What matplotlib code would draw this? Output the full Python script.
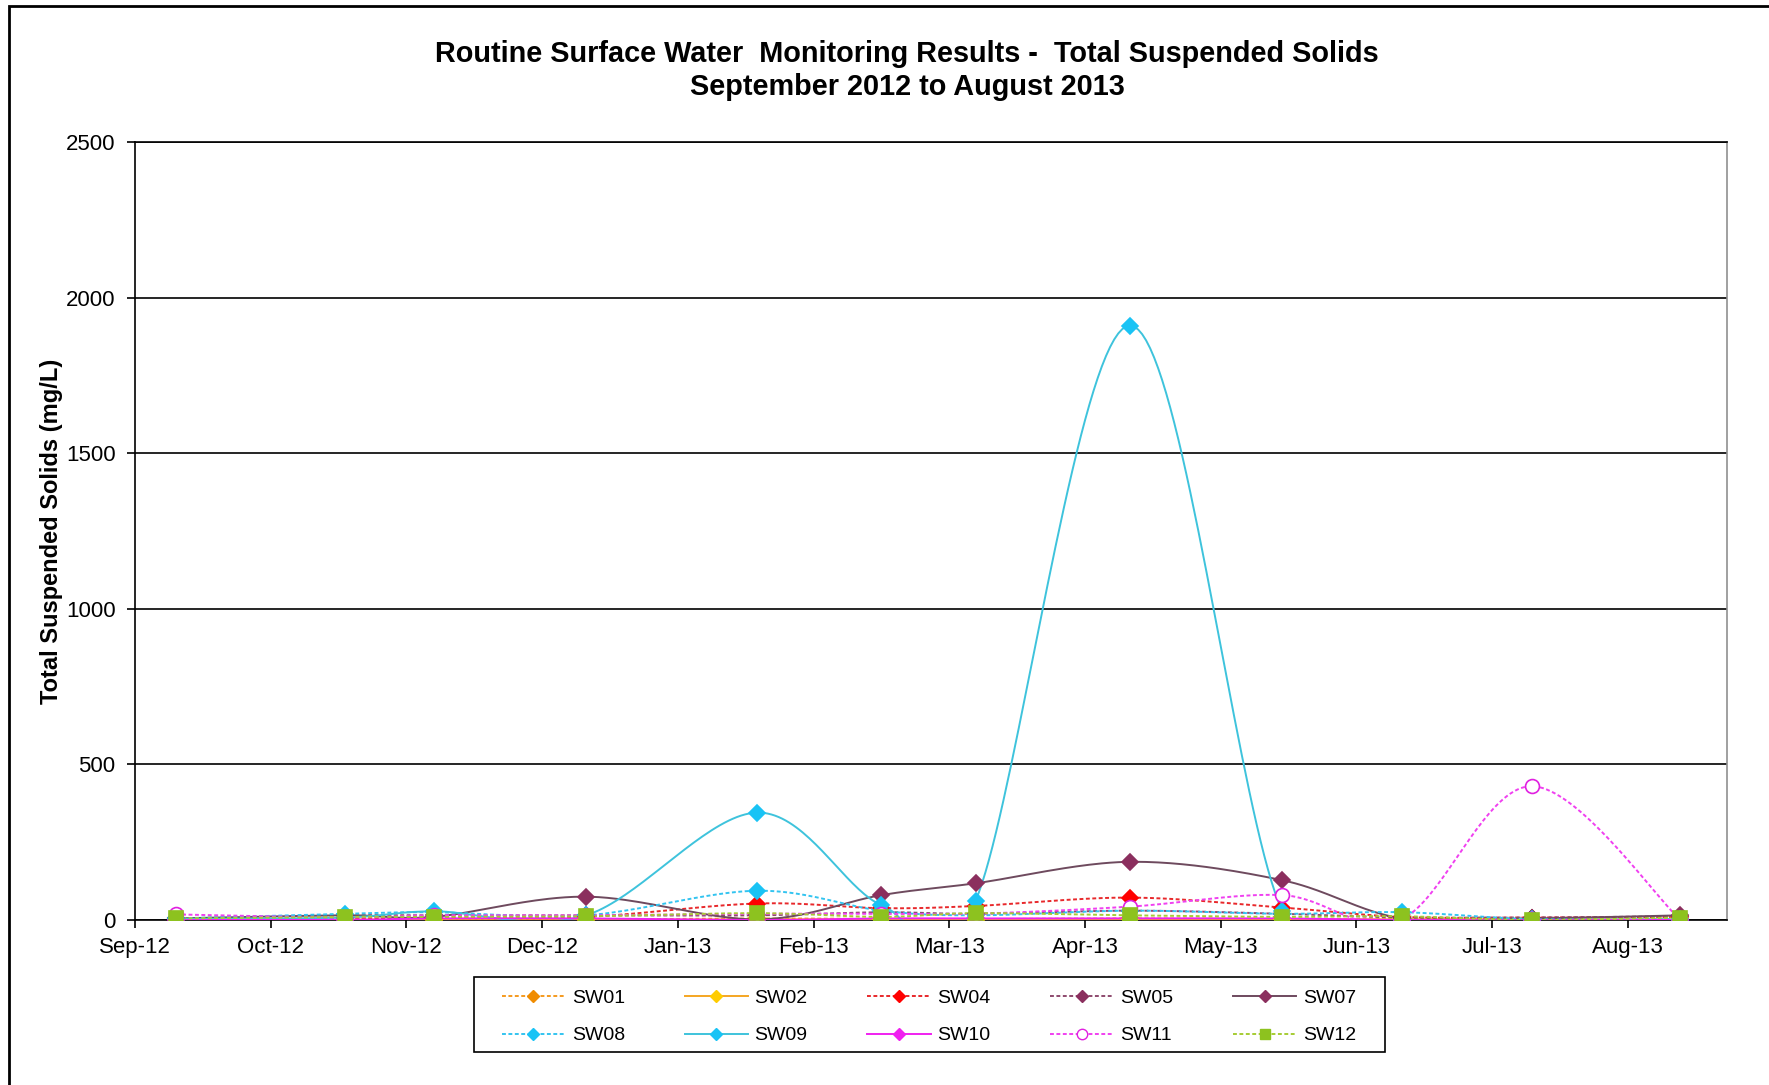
import matplotlib
matplotlib.use("Agg")
import matplotlib.pyplot as plt
from matplotlib.patches import Rectangle
import numpy as np
import pandas as pd

plt.rcParams['font.family'] = ['Liberation Sans', 'DejaVu Sans']

# sampling dates and readings (mg/L)
dates = ["2012-09-10", "2012-10-18", "2012-11-07", "2012-12-11", "2013-01-19", "2013-02-15",
         "2013-03-07", "2013-04-11", "2013-05-15", "2013-06-11", "2013-07-10", "2013-08-13"]
month_labels = ["Sep-12", "Oct-12", "Nov-12", "Dec-12", "Jan-13", "Feb-13",
                "Mar-13", "Apr-13", "May-13", "Jun-13", "Jul-13", "Aug-13"]
y_ticks = [0, 500, 1000, 1500, 2000, 2500]

sw01 = [3, 5, 2, 2, 5, 3, 3, 5, 3, 2, 2, 3]
sw02 = [2, 2, 0, 0, 2, 2, 0, 2, 2, 2, 2, 2]
sw04 = [5, 5, 8, 10, 53, 38, 45, 72, 40, 10, 8, 10]
sw05 = [5, 15, 15, 15, 15, 25, 20, 30, 20, 8, 8, 12]
sw07 = [5, 15, 10, 75, 2, 80, 118, 187, 128, 5, 5, 15]
sw08 = [5, 20, 25, 15, 94, 30, 15, 30, 20, 25, 3, 3]
sw09 = [3, 8, 28, 15, 345, 48, 62, 1910, 30, 0, 0, 0]
sw10 = [0, 0, 5, 5, 0, 5, 5, 5, 5, 0, 0, 0]
sw11 = [18, 8, 15, 15, 20, 20, 20, 43, 80, 3, 430, 0]
sw12 = [5, 10, 10, 12, 22, 10, 22, 15, 10, 12, 0, 8]

# name, values, line colour, marker, marker colour, linestyle, open marker
styles = [
    ("SW01", sw01, "#F59A1E", "D", "#F08C00", "dot", False),
    ("SW02", sw02, "#F5A623", "D", "#FFCC00", "solid", False),
    ("SW04", sw04, "#E8282B", "D", "#FF0000", "dot", False),
    ("SW05", sw05, "#8E4A6E", "D", "#8B2F5E", "dot", False),
    ("SW07", sw07, "#6E4A5E", "D", "#8B2F5E", "solid", False),
    ("SW08", sw08, "#33C4F0", "D", "#19C3F5", "dot", False),
    ("SW09", sw09, "#3EC3DC", "D", "#19C3F5", "solid", False),
    ("SW10", sw10, "#F020F0", "D", "#F020F0", "solid", False),
    ("SW11", sw11, "#F040F0", "o", "#E020E0", "dot", True),
    ("SW12", sw12, "#A6CC33", "s", "#8DC21F", "dot", False),
]


def month_pos(d):
    # equal width for every month, Sep-12 = 0
    t = pd.Timestamp(d)
    idx = (t.year - 2012) * 12 + t.month - 9
    return idx + (t.day - 1) / t.days_in_month


def smooth(xs, ys, n=40):
    # Excel style smoothed line (cubic bezier through the points)
    pts = np.column_stack([xs, ys]).astype(float)
    out = [pts[0]]
    t = np.linspace(0, 1, n)[1:, None]
    for i in range(len(pts) - 1):
        p0 = pts[i - 1] if i > 0 else pts[i]
        p1, p2 = pts[i], pts[i + 1]
        p3 = pts[i + 2] if i + 2 < len(pts) else pts[i + 1]
        c1 = p1 + (p2 - p0) / 6
        c2 = p2 - (p3 - p1) / 6
        seg = (1 - t) ** 3 * p1 + 3 * (1 - t) ** 2 * t * c1 + 3 * (1 - t) * t ** 2 * c2 + t ** 3 * p2
        out.extend(seg)
    out = np.array(out)
    return out[:, 0], out[:, 1]


x = np.array([month_pos(d) for d in dates])

fig = plt.figure(figsize=(17.69, 10.85), dpi=100)
ax = fig.add_axes([135 / 1769, 1 - 920 / 1085, (1727 - 135) / 1769, (920 - 142) / 1085])

handles = []
for name, vals, lc, mk, mc, ls, hollow in styles:
    sx, sy = smooth(x, vals)
    dash = (0, (2.0, 1.3)) if ls == "dot" else "-"
    ax.plot(sx, sy, color=lc, lw=1.4, linestyle=dash, zorder=3)
    ms = 10 if mk == "o" else (10 if mk == "s" else 8.5)
    ax.plot(x, vals, linestyle="none", marker=mk, ms=ms,
            mfc="white" if hollow else mc, mec=mc, mew=1.2, zorder=4)
    h, = ax.plot([], [], color=lc, lw=1.4, linestyle=dash, marker=mk, ms=6.5 if mk == "D" else 7.5,
                 mfc="white" if hollow else mc, mec=mc, mew=1.0)
    h.set_label(name)
    handles.append(h)

# legend is filled column by column, so interleave to get row order
leg_order = [0, 5, 1, 6, 2, 7, 3, 8, 4, 9]
leg_handles = [handles[i] for i in leg_order]

ax.set_xlim(0, 11.73)
ax.set_ylim(0, 2500)
ax.set_xticks(range(len(month_labels)))
ax.set_xticklabels(month_labels)
ax.set_yticks(y_ticks)
ax.tick_params(axis='both', labelsize=16, direction='out', length=6, width=1.2, colors='black')
ax.tick_params(axis='y', pad=8)
ax.tick_params(axis='x', pad=6)
ax.grid(True, axis='y', color='black', lw=1.2)
ax.set_axisbelow(True)
for s in ['left', 'bottom', 'top']:
    ax.spines[s].set_color('black')
    ax.spines[s].set_linewidth(1.2)
ax.spines['right'].set_color('#909090')
ax.spines['right'].set_linewidth(1.2)

ax.set_ylabel('Total Suspended Solids (mg/L)', fontsize=17, fontweight='bold')
ax.yaxis.set_label_coords(-0.045, 0.5)

fig.text(907 / 1769, 1 - 54 / 1085, 'Routine Surface Water  Monitoring Results -  Total Suspended Solids',
         ha='center', va='center', fontsize=20.8, fontweight='bold')
fig.text(907 / 1769, 1 - 87 / 1085, 'September 2012 to August 2013',
         ha='center', va='center', fontsize=20.8, fontweight='bold')

leg = fig.legend(handles=leg_handles, loc='center', bbox_to_anchor=(929 / 1769, 1 - 1017 / 1085),
                 ncol=5, fontsize=14, numpoints=1, handlelength=3.25, handletextpad=0.35,
                 columnspacing=3.07, labelspacing=1.0, frameon=False, borderpad=0, borderaxespad=0)

# legend box
fig.patches.append(Rectangle((474 / 1769, 1 - 1052 / 1085), (1385 - 474) / 1769, 75 / 1085,
                             transform=fig.transFigure, fill=False, edgecolor='black', lw=1.2))

# chart area border
fig.patches.append(Rectangle((9 / 1769, -0.05), 1.2, 1 - 6 / 1085 + 0.05, transform=fig.transFigure,
                             fill=False, edgecolor='black', lw=2, zorder=0))

plt.savefig('out.png', dpi=100)
plt.close()
